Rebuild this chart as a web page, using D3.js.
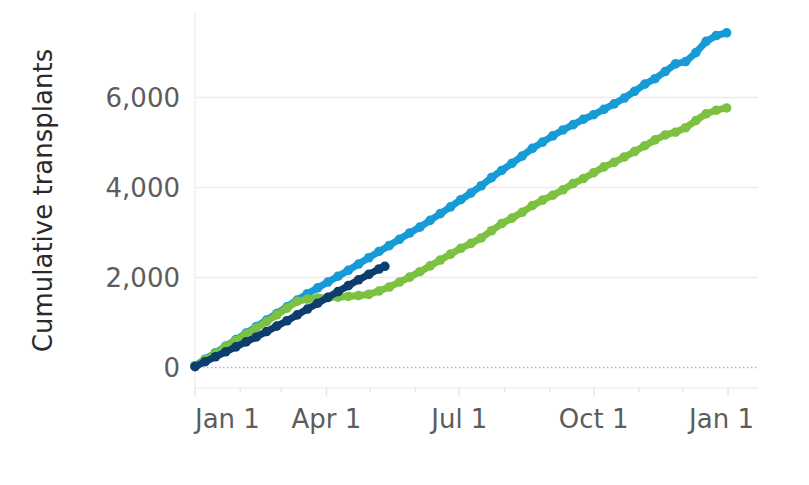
<!DOCTYPE html>
<html>
<head>
<meta charset="utf-8">
<script src="https://cdn.jsdelivr.net/npm/d3@7"></script>
<style>
  html, body { margin: 0; padding: 0; background: #fff; }
  svg { display: block; font-family: "DejaVu Sans", Verdana, sans-serif; }
</style>
</head>
<body>
<svg id="chart" width="809" height="485"></svg>
<script>
// ---- data (day of year offset from Jan 1, weekly) ----
const weekDays = [0,7,14,21,28,35,42,49,56,63,70,77,84,91,98,105,112,119,126,133,140,147,154,161,168,175,182,189,196,203,210,217,224,231,238,245,252,259,266,273,280,287,294,301,308,315,322,329,336,343,350,357,364];
const seriesBlue = [40,185,330,475,620,765,910,1055,1200,1350,1500,1640,1770,1900,2030,2160,2300,2440,2580,2710,2850,2990,3120,3270,3420,3570,3730,3880,4040,4220,4380,4540,4700,4870,5010,5150,5280,5400,5520,5620,5740,5860,5990,6140,6300,6420,6580,6750,6800,7000,7250,7380,7440];
const seriesGreen = [30,170,310,460,600,740,880,1020,1170,1320,1470,1520,1545,1555,1565,1580,1600,1625,1700,1790,1900,2010,2130,2260,2390,2520,2650,2760,2880,3040,3200,3320,3450,3600,3720,3830,3950,4090,4200,4330,4460,4560,4680,4800,4930,5060,5170,5230,5330,5490,5640,5720,5770];
const navyDays = [0,7,14,21,28,35,42,49,56,63,70,77,84,91,98,105,112,119,126,130];
const seriesNavy = [20,130,240,350,460,570,680,800,920,1040,1170,1300,1430,1560,1690,1820,1950,2070,2190,2250];
const yTicks = [0, 2000, 4000, 6000];
const xMajorTicks = ["2019-01-01","2019-04-01","2019-07-01","2019-10-01","2020-01-01"];
const yTitle = "Cumulative transplants";

// ---- layout ----
const svg = d3.select("#chart");
const plot = { left: 195, right: 758, top: 13, bottom: 388 };
const baseDate = new Date(2019, 0, 1);
const dayToDate = d => new Date(2019, 0, 1 + d);

const x = d3.scaleTime()
  .domain([baseDate, new Date(2020, 0, 21, 12)])
  .range([plot.left, plot.right]);
const y = d3.scaleLinear()
  .domain([-455, 7880])
  .range([plot.bottom, plot.top]);

// gridlines
svg.append("g").selectAll("line")
  .data(yTicks.filter(t => t !== 0))
  .join("line")
  .attr("x1", plot.left).attr("x2", plot.right)
  .attr("y1", d => y(d)).attr("y2", d => y(d))
  .attr("stroke", "#ececec").attr("stroke-width", 1.5);

// left and bottom frame lines
svg.append("line")
  .attr("x1", plot.left).attr("x2", plot.left)
  .attr("y1", plot.top).attr("y2", plot.bottom)
  .attr("stroke", "#efefef").attr("stroke-width", 1.5);
svg.append("line")
  .attr("x1", plot.left).attr("x2", plot.right)
  .attr("y1", plot.bottom).attr("y2", plot.bottom)
  .attr("stroke", "#efefef").attr("stroke-width", 1.5);

// zero dotted line
svg.append("line")
  .attr("x1", plot.left).attr("x2", plot.right)
  .attr("y1", y(0)).attr("y2", y(0))
  .attr("stroke", "#b5b5b5").attr("stroke-width", 1.5)
  .attr("stroke-dasharray", "1.5,2.5");

// x axis ticks (monthly minor, quarterly major)
const majorDates = xMajorTicks.map(s => d3.timeParse("%Y-%m-%d")(s));
const minorDates = d3.timeMonth.range(new Date(2019,0,1), new Date(2020,0,15));
svg.append("g").selectAll("line")
  .data(minorDates.filter(d => d.getMonth() % 3 !== 0))
  .join("line")
  .attr("x1", d => x(d)).attr("x2", d => x(d))
  .attr("y1", plot.bottom).attr("y2", plot.bottom + 4)
  .attr("stroke", "#e6e6e6").attr("stroke-width", 1.5);
svg.append("g").selectAll("line")
  .data(majorDates)
  .join("line")
  .attr("x1", d => x(d)).attr("x2", d => x(d))
  .attr("y1", plot.bottom).attr("y2", plot.bottom + 8)
  .attr("stroke", "#e6e6e6").attr("stroke-width", 1.5);

const fmt = d3.timeFormat("%b %-d");
const xl = svg.append("g").selectAll("text")
  .data(majorDates)
  .join("text")
  .attr("x", d => x(d))
  .attr("y", 428)
  .attr("text-anchor", "middle")
  .attr("font-size", 26)
  .attr("fill", "#5c5c5c")
  .text(d => fmt(d));
// keep labels inside plot domain (clamp)
xl.each(function(d) {
  const w = this.getComputedTextLength();
  let cx = x(d);
  if (cx - w / 2 < plot.left) cx = plot.left + w / 2;
  if (cx + w / 2 > plot.right - 4) cx = plot.right - 4 - w / 2;
  d3.select(this).attr("x", cx);
});

// y axis labels
svg.append("g").selectAll("text")
  .data(yTicks)
  .join("text")
  .attr("x", 180)
  .attr("y", d => y(d))
  .attr("dy", "0.36em")
  .attr("text-anchor", "end")
  .attr("font-size", 26)
  .attr("fill", "#5c5c5c")
  .text(d => d3.format(",")(d));

// y title
svg.append("text")
  .attr("transform", `translate(43,${(plot.top + plot.bottom) / 2}) rotate(-90)`)
  .attr("dy", "0.36em")
  .attr("text-anchor", "middle")
  .attr("font-size", 26)
  .attr("fill", "#2a2a2a")
  .text(yTitle);

// series
const series = [
  { days: weekDays, values: seriesBlue, color: "#179bd7" },
  { days: weekDays, values: seriesGreen, color: "#7dc142" },
  { days: navyDays, values: seriesNavy, color: "#0d3d6d" }
];
const line = d3.line()
  .x(p => x(dayToDate(p[0])))
  .y(p => y(p[1]))
  .curve(d3.curveLinear);

series.forEach(s => {
  const pts = s.days.map((d, i) => [d, s.values[i]]);
  const g = svg.append("g");
  g.append("path")
    .datum(pts)
    .attr("d", line)
    .attr("fill", "none")
    .attr("stroke", s.color)
    .attr("stroke-width", 7)
    .attr("stroke-linejoin", "round")
    .attr("stroke-linecap", "round");
  g.selectAll("circle")
    .data(pts)
    .join("circle")
    .attr("cx", p => x(dayToDate(p[0])))
    .attr("cy", p => y(p[1]))
    .attr("r", 4.8)
    .attr("fill", s.color);
});
</script>
</body>
</html>
